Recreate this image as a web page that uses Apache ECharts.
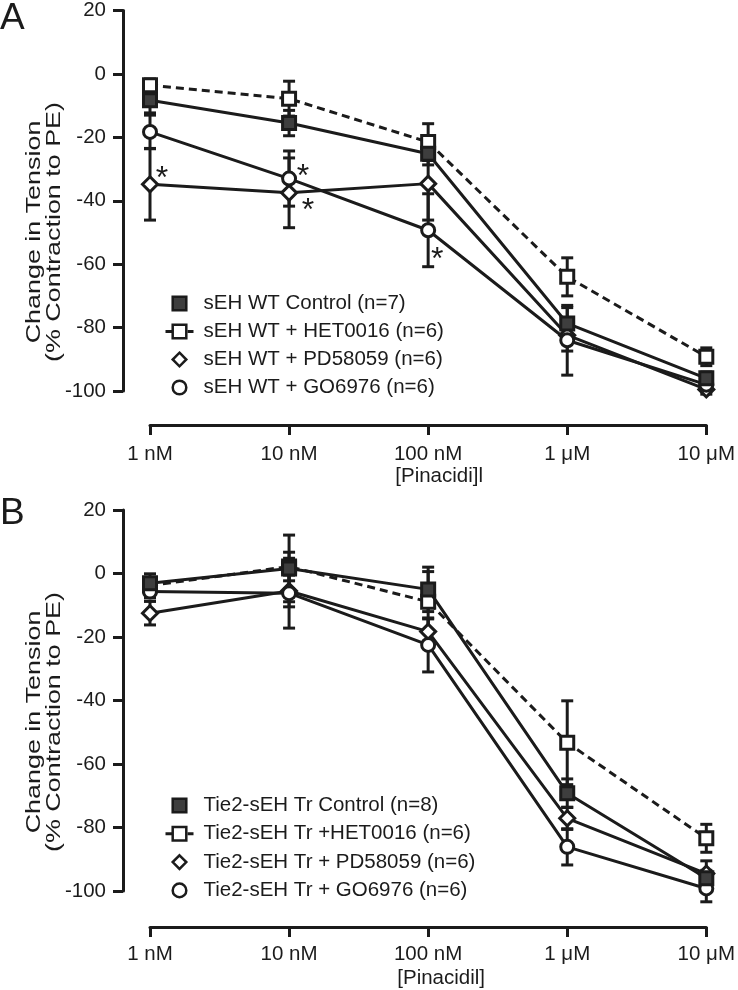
<!DOCTYPE html>
<html><head><meta charset="utf-8">
<script src="https://cdn.jsdelivr.net/npm/echarts@6/dist/echarts.min.js"></script>
<style>html,body{margin:0;padding:0;background:#fff}#c{width:738px;height:990px}</style>
</head><body><div id="c"></div>
<script>
// ---------- data ----------
const categories = ['1 nM', '10 nM', '100 nM', '1 μM', '10 μM'];
const yTickMin = -100, yTickMax = 20, yTickStep = 20;

const namesA = ['sEH WT Control (n=7)', 'sEH WT + HET0016 (n=6)', 'sEH WT + PD58059 (n=6)', 'sEH WT + GO6976 (n=6)'];
const ctrlA = [-8.3, -15.5, -25.2, -78.7, -96.0];
const ctrlAErr = [4, 4, 3.5, 5, 2];
const hetA = [-3.6, -7.8, -21.5, -64.0, -89.2];
const hetAErr = [2, 5.5, 5.8, 6, 2.8];
const pdA = [-34.8, -37.5, -34.6, -82.4, -99.5];
const pdAErr = [11.3, 11, 11.5, 5, 1.5];
const goA = [-18.3, -33.0, -49.3, -84.0, -98.0];
const goAErr = [5.3, 8.7, 11.5, 11, 1.5];
const sigPdA = [1, 1, 0, 0, 0];
const sigGoA = [0, 1, 1, 0, 0];

const namesB = ['Tie2-sEH Tr Control (n=8)', 'Tie2-sEH Tr +HET0016 (n=6)', 'Tie2-sEH Tr + PD58059 (n=6)', 'Tie2-sEH Tr + GO6976 (n=6)'];
const ctrlB = [-3.1, 1.6, -5.0, -69.2, -96.0];
const ctrlBErr = [3, 10.5, 7, 4.5, 2.5];
const hetB = [-3.8, 2.2, -8.9, -53.3, -83.4];
const hetBErr = [2.5, 4.5, 9.5, 13.2, 4.4];
const pdB = [-12.5, -5.5, -18.3, -77.1, -94.5];
const pdBErr = [3.7, 5, 4, 3.5, 4];
const goB = [-5.7, -6.2, -22.5, -86.1, -99.2];
const goBErr = [2, 11, 8.5, 5.7, 4.2];

const xTitleA = '[Pinacidi]l';
const xTitleB = '[Pinacidil]';
const yTitle = 'Change in Tension\n(% Contraction to PE)';

// ---------- styling ----------
const INK = '#1b1b1b';
const FONT = '"Liberation Sans", Arial, sans-serif';
const styles = [
  {symbol: 'rect', size: 13, fill: '#3e3e3e', dash: 'solid'},
  {symbol: 'rect', size: 13, fill: '#ffffff', dash: [8, 5]},
  {symbol: 'diamond', size: 15, fill: '#ffffff', dash: 'solid'},
  {symbol: 'circle', size: 13, fill: '#ffffff', dash: 'solid'}
];
// asterisk offsets (panel A): key = seriesIdx_pointIdx
const starOffsets = {'2_0': [12, -5], '3_1': [14, -1], '2_1': [19, 18], '3_2': [9, 30]};

function errRender(params, api) {
  const x = api.value(0), m = api.value(1), e = api.value(2);
  const t = api.coord([x, m + e]), b = api.coord([x, m - e]);
  const hw = 6, st = {stroke: INK, lineWidth: 3};
  return {type: 'group', children: [
    {type: 'line', shape: {x1: t[0], y1: t[1], x2: b[0], y2: b[1]}, style: st},
    {type: 'line', shape: {x1: t[0] - hw, y1: t[1], x2: t[0] + hw, y2: t[1]}, style: st},
    {type: 'line', shape: {x1: b[0] - hw, y1: b[1], x2: b[0] + hw, y2: b[1]}, style: st}
  ]};
}

function makeSeries(panel, names, vals, errs, sigs) {
  const out = [];
  vals.forEach((v, k) => {
    out.push({
      type: 'custom', name: 'err' + panel + k, xAxisIndex: panel, yAxisIndex: panel,
      renderItem: errRender, z: 1, clip: false, silent: true,
      encode: {x: 0, y: 1},
      data: v.map((y, i) => [i, y, errs[k][i]])
    });
  });
  vals.forEach((v, k) => {
    const s = styles[k];
    const data = v.map((y, i) => {
      if (sigs && sigs[k] && sigs[k][i]) {
        const off = starOffsets[k + '_' + i] || [10, 0];
        return {value: y, label: {show: true, formatter: '*', position: 'inside', offset: off,
          fontSize: 32, color: INK, fontFamily: FONT}};
      }
      return y;
    });
    out.push({
      type: 'line', name: names[k], xAxisIndex: panel, yAxisIndex: panel, z: 3 + (k === 0 ? 1 : 0),
      symbol: s.symbol, symbolSize: s.size, showAllSymbol: true,
      lineStyle: {color: INK, width: 3, type: s.dash},
      itemStyle: {color: s.fill, borderColor: INK, borderWidth: 3},
      emphasis: {disabled: true},
      data: data
    });
  });
  return out;
}

function legendData(names) {
  return names.map((n, k) => ({
    name: n,
    lineStyle: k === 1 ? {type: [7, 4], width: 3, color: INK} : {opacity: 0}
  }));
}

function xAxisCfg(idx, offset, title, nameShift, margin) {
  return {
    type: 'category', gridIndex: idx, data: categories, boundaryGap: false, position: 'bottom',
    offset: offset,
    axisLine: {onZero: false, lineStyle: {color: INK, width: 3}},
    axisTick: {show: true, length: 10, lineStyle: {color: INK, width: 3}},
    axisLabel: {fontSize: 20.5, color: INK, fontFamily: FONT, margin: margin, interval: 0},
    splitLine: {show: false},
    name: title, nameLocation: 'middle', nameGap: 41,
    nameTextStyle: {fontSize: 20.5, color: INK, fontFamily: FONT, padding: [0, 0, 0, nameShift]}
  };
}
function yAxisCfg(idx) {
  return {
    type: 'value', gridIndex: idx, min: yTickMin, max: yTickMax, interval: yTickStep, offset: 27,
    axisLine: {show: true, onZero: false, lineStyle: {color: INK, width: 3}},
    axisTick: {show: true, length: 10, lineStyle: {color: INK, width: 3}},
    axisLabel: {fontSize: 20.5, color: INK, fontFamily: FONT, margin: 17},
    splitLine: {show: false}
  };
}

const legendText = {fontSize: 20.5, lineHeight: 20, color: INK, fontFamily: FONT, padding: [0, 0, 0, 5]};

const chart = echarts.init(document.getElementById('c'), null, {renderer: 'canvas'});
chart.setOption({
  animation: false,
  backgroundColor: '#fff',
  textStyle: {fontFamily: FONT},
  grid: [
    {left: 150, top: 10, width: 558, height: 381},
    {left: 150, top: 510, width: 558, height: 381}
  ],
  xAxis: [xAxisCfg(0, 34, xTitleA, 22, 19), xAxisCfg(1, 36, xTitleB, 26, 17)],
  yAxis: [yAxisCfg(0), yAxisCfg(1)],
  legend: [
    {data: legendData(namesA), orient: 'vertical', left: 164, top: 293, padding: 0, itemGap: 7,
     itemWidth: 28, itemHeight: 17, selectedMode: false,
     itemStyle: {borderWidth: 2.5}, textStyle: legendText},
    {data: legendData(namesB), orient: 'vertical', left: 164, top: 795, padding: 0, itemGap: 7.3,
     itemWidth: 28, itemHeight: 17, selectedMode: false,
     itemStyle: {borderWidth: 2.5}, textStyle: legendText}
  ],
  graphic: [
    {type: 'text', left: 0, top: 0, style: {text: 'A', fontSize: 37, fontFamily: FONT, fill: INK}},
    {type: 'text', left: 0, top: 495, style: {text: 'B', fontSize: 37, fontFamily: FONT, fill: INK}},
    {type: 'text', x: 44, y: 232, rotation: Math.PI / 2, scaleX: 1.28,
     style: {text: yTitle, fontSize: 21, lineHeight: 20, fontFamily: FONT, fill: INK, align: 'center', verticalAlign: 'middle'}},
    {type: 'text', x: 44, y: 722, rotation: Math.PI / 2, scaleX: 1.28,
     style: {text: yTitle, fontSize: 21, lineHeight: 20, fontFamily: FONT, fill: INK, align: 'center', verticalAlign: 'middle'}}
  ],
  series: [].concat(
    makeSeries(0, namesA, [ctrlA, hetA, pdA, goA], [ctrlAErr, hetAErr, pdAErr, goAErr], [null, null, sigPdA, sigGoA]),
    makeSeries(1, namesB, [ctrlB, hetB, pdB, goB], [ctrlBErr, hetBErr, pdBErr, goBErr], null)
  )
});
</script></body></html>
